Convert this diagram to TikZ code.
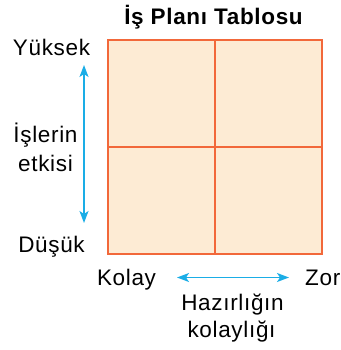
\documentclass[tikz,border=0pt]{standalone}
\usepackage{fontspec}
\setmainfont[LetterSpace=3]{Liberation Sans}
\usetikzlibrary{arrows.meta}
\definecolor{gridline}{HTML}{F2683A}
\definecolor{cellfill}{HTML}{FDEBD4}
\definecolor{arrowcol}{HTML}{1AADE6}
\tikzset{
  cell/.style={draw=gridline, fill=cellfill, line width=2pt, minimum width=107pt, minimum height=107pt, inner sep=0pt, anchor=north west},
  lbl/.style={font=\fontsize{22.5}{27}\selectfont, inner sep=0pt, anchor=base},
  ttl/.style={font=\fontsize{22.5}{27}\selectfont\bfseries, inner sep=0pt, anchor=base},
  biarrow/.style={draw=arrowcol, line width=1.5pt, {Stealth[length=12pt,width=9pt,inset=3pt]}-{Stealth[length=12pt,width=9pt,inset=3pt]}}
}
\begin{document}
\begin{tikzpicture}[x=1pt,y=-1pt]
\useasboundingbox (0,0) rectangle (340,350);
\node[ttl] (title) at (213.5,25) {İş Planı Tablosu};
\node[cell] (c11) at (107,39) {};
\node[cell] (c12) at (214,39) {};
\node[cell] (c21) at (107,146) {};
\node[cell] (c22) at (214,146) {};
\node[lbl] (yuksek) at (51.5,56) {Yüksek};
\node[lbl] (isl) at (45.5,142) {İşlerin};
\node[lbl] (etk) at (45.5,171) {etkisi};
\node[lbl] (dusuk) at (51.5,252) {Düşük};
\node[lbl] (kolay) at (126.5,285) {Kolay};
\node[lbl, anchor=base west] (zor) at (305,285) {Zor};
\node[lbl] (haz) at (232.5,310) {Hazırlığın};
\node[lbl] (kol) at (231.5,337) {kolaylığı};
\coordinate (vtop) at (84,65);
\coordinate (vbot) at (84,223);
\coordinate (hl) at (177,277.5);
\coordinate (hr) at (289,277.5);
\draw[biarrow] (vtop) -- (vbot);
\draw[biarrow] (hl) -- (hr);
\end{tikzpicture}
\end{document}
